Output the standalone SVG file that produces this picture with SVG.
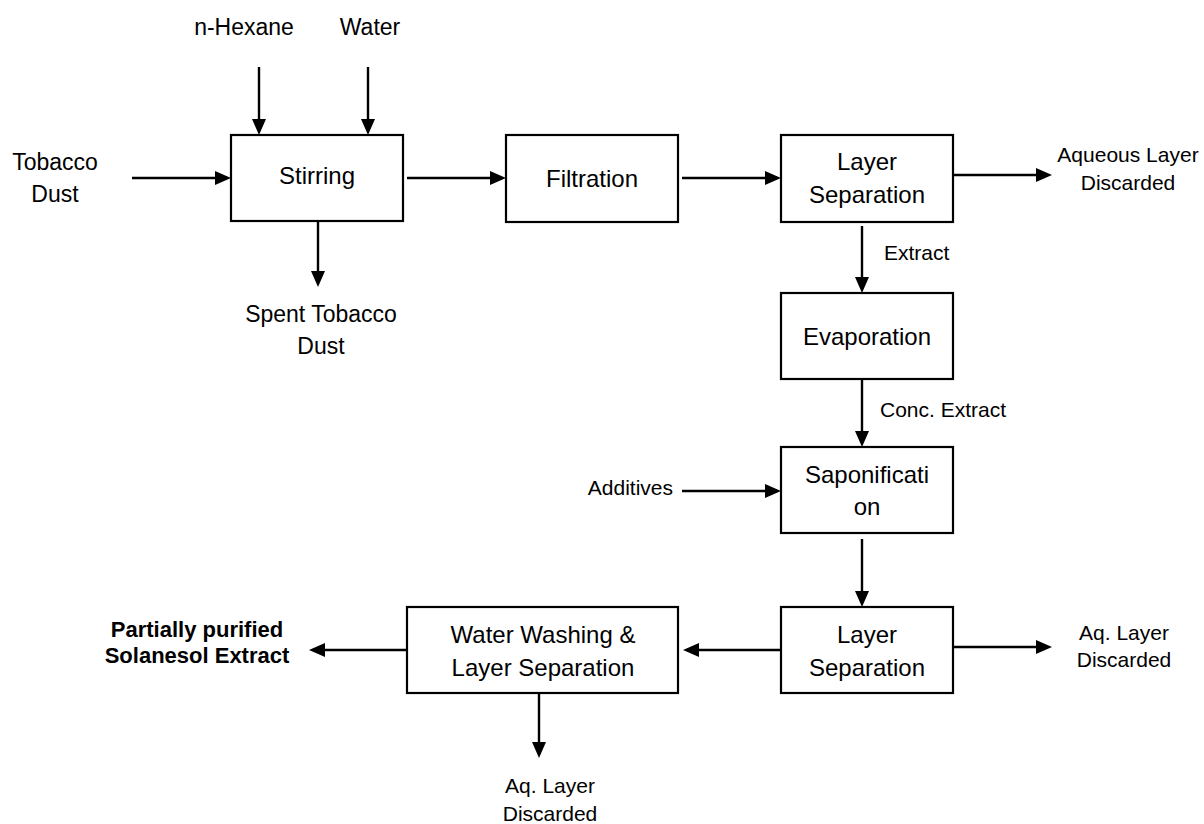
<svg xmlns="http://www.w3.org/2000/svg" width="1204" height="824" viewBox="0 0 1204 824">
  <defs>
    <marker id="arrow" markerUnits="userSpaceOnUse" viewBox="0 0 16 14" refX="12" refY="7" markerWidth="16" markerHeight="14" orient="auto">
      <path d="M0,0 L16,7 L0,14 z" fill="#000"/>
    </marker>
    <style>
      .box { fill: #fff; stroke: #000; stroke-width: 2.2; }
      .flow { fill: none; stroke: #000; stroke-width: 2.4; marker-end: url(#arrow); }
      text { font-family: "Liberation Sans", Arial, sans-serif; fill: #000; }
      .bt { font-size: 24px; text-anchor: middle; }
      .lbl { font-size: 23px; text-anchor: middle; }
      .sm { font-size: 21px; }
      .smc { font-size: 21px; text-anchor: middle; }
      .bold { font-size: 22px; font-weight: bold; text-anchor: middle; }
    </style>
  </defs>

  <rect width="1204" height="824" fill="#fff"/>

  <!-- process connectors -->
  <g id="connectors">
    <path class="flow" d="M132,178 H227"/>
    <path class="flow" d="M259,67 V131"/>
    <path class="flow" d="M368,67 V131"/>
    <path class="flow" d="M318,221 V283"/>
    <path class="flow" d="M407,178 H502"/>
    <path class="flow" d="M682,178 H777"/>
    <path class="flow" d="M953,175 H1048"/>
    <path class="flow" d="M862,226 V289"/>
    <path class="flow" d="M862,379 V443"/>
    <path class="flow" d="M682,491 H777"/>
    <path class="flow" d="M862,539 V603"/>
    <path class="flow" d="M953,647 H1048"/>
    <path class="flow" d="M781,650 H687"/>
    <path class="flow" d="M407,650 H313"/>
    <path class="flow" d="M539,693 V754"/>
  </g>

  <!-- stream labels -->
  <g id="inputs">
    <text class="lbl" x="244" y="35">n-Hexane</text>
    <text class="lbl" x="370" y="35">Water</text>
    <text class="lbl" x="55" y="170">Tobacco</text>
    <text class="lbl" x="55" y="202">Dust</text>
    <text class="sm" x="673" y="495" text-anchor="end">Additives</text>
  </g>
  <g id="outputs">
    <text class="lbl" x="321" y="322">Spent Tobacco</text>
    <text class="lbl" x="321" y="354">Dust</text>
    <text class="smc" x="1128" y="162">Aqueous Layer</text>
    <text class="smc" x="1128" y="190">Discarded</text>
    <text class="smc" x="1124" y="640">Aq. Layer</text>
    <text class="smc" x="1124" y="667">Discarded</text>
    <text class="smc" x="550" y="793">Aq. Layer</text>
    <text class="smc" x="550" y="821">Discarded</text>
    <text class="bold" x="197" y="637">Partially purified</text>
    <text class="bold" x="197" y="663">Solanesol Extract</text>
  </g>
  <g id="stream-notes">
    <text class="sm" x="884" y="260">Extract</text>
    <text class="sm" x="880" y="417">Conc. Extract</text>
  </g>

  <!-- unit operations -->
  <g id="stirring">
    <rect class="box" x="231" y="135" width="172" height="86"/>
    <text class="bt" x="317" y="184">Stirring</text>
  </g>
  <g id="filtration">
    <rect class="box" x="506" y="135" width="172" height="87"/>
    <text class="bt" x="592" y="187">Filtration</text>
  </g>
  <g id="layer-separation-1">
    <rect class="box" x="781" y="135" width="172" height="87"/>
    <text class="bt" x="867" y="170">Layer</text>
    <text class="bt" x="867" y="203">Separation</text>
  </g>
  <g id="evaporation">
    <rect class="box" x="781" y="293" width="172" height="86"/>
    <text class="bt" x="867" y="345">Evaporation</text>
  </g>
  <g id="saponification">
    <rect class="box" x="781" y="447" width="172" height="86"/>
    <text class="bt" x="867" y="483">Saponificati</text>
    <text class="bt" x="867" y="515">on</text>
  </g>
  <g id="layer-separation-2">
    <rect class="box" x="781" y="607" width="172" height="86"/>
    <text class="bt" x="867" y="643">Layer</text>
    <text class="bt" x="867" y="676">Separation</text>
  </g>
  <g id="water-washing">
    <rect class="box" x="407" y="607" width="271" height="86"/>
    <text class="bt" x="543" y="643">Water Washing &amp;</text>
    <text class="bt" x="543" y="676">Layer Separation</text>
  </g>
</svg>
